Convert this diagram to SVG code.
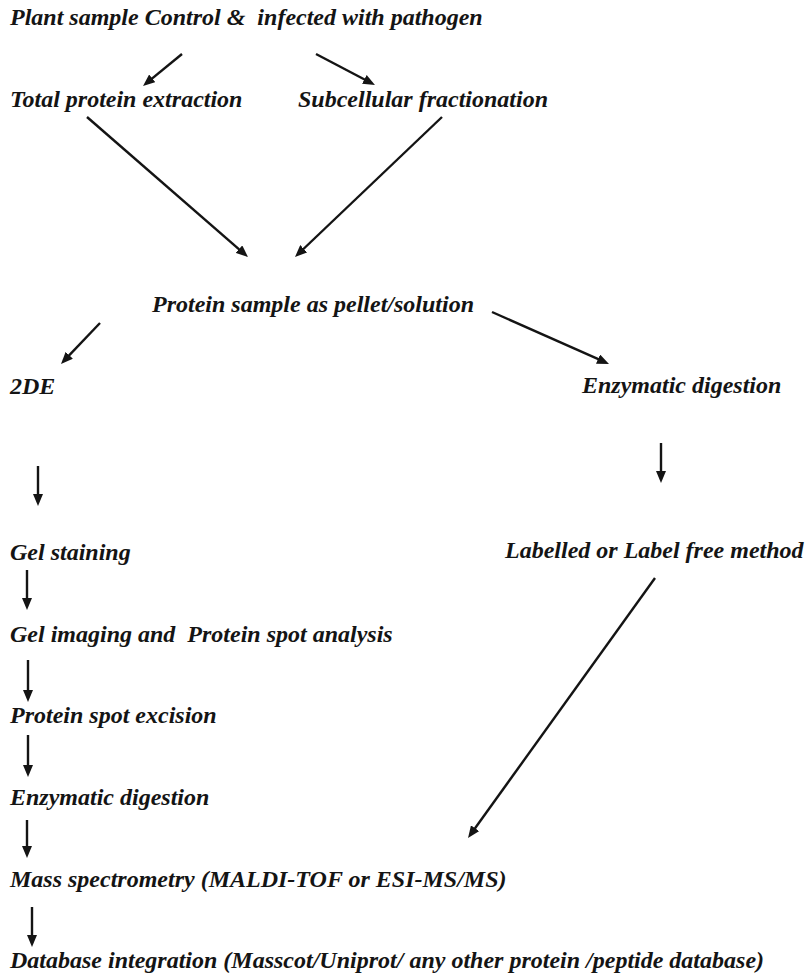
<svg xmlns="http://www.w3.org/2000/svg" width="810" height="978" viewBox="0 0 810 978">
  <style>
    .lbl { font-family: "Liberation Serif", "Times New Roman", serif; font-size: 24px; font-weight: bold; font-style: italic; fill: #141414; white-space: pre; }
    .edge { stroke: #141414; stroke-width: 2.4; fill: none; marker-end: url(#head); }
  </style>
  <defs>
    <marker id="head" markerUnits="userSpaceOnUse" viewBox="0 0 12 10" markerWidth="12" markerHeight="10" refX="4" refY="5" orient="auto">
      <path d="M0,0 L12,5 L0,10 z" fill="#141414"/>
    </marker>
  </defs>
  <rect width="810" height="978" fill="#ffffff"/>

  <g id="plant-sample"><text class="lbl" x="10" y="25">Plant sample Control &amp;  infected with pathogen</text></g>
  <g id="total-extraction"><text class="lbl" x="10" y="107">Total protein extraction</text></g>
  <g id="subcellular"><text class="lbl" x="298" y="107">Subcellular fractionation</text></g>
  <g id="protein-sample"><text class="lbl" x="152" y="312">Protein sample as pellet/solution</text></g>
  <g id="twode"><text class="lbl" x="10" y="394">2DE</text></g>
  <g id="enzymatic-right"><text class="lbl" x="582" y="393">Enzymatic digestion</text></g>
  <g id="gel-staining"><text class="lbl" x="10" y="560">Gel staining</text></g>
  <g id="labelled"><text class="lbl" x="505" y="558">Labelled or Label free method</text></g>
  <g id="gel-imaging"><text class="lbl" x="10" y="642">Gel imaging and  Protein spot analysis</text></g>
  <g id="spot-excision"><text class="lbl" x="10" y="723">Protein spot excision</text></g>
  <g id="enzymatic-left"><text class="lbl" x="10" y="805">Enzymatic digestion</text></g>
  <g id="mass-spec"><text class="lbl" x="10" y="887">Mass spectrometry (MALDI-TOF or ESI-MS/MS)</text></g>
  <g id="database"><text class="lbl" x="10" y="968">Database integration (Masscot/Uniprot/ any other protein /peptide database)</text></g>

  <g id="connectors">
    <line class="edge" x1="182" y1="54" x2="149.2" y2="80.9"/>
    <line class="edge" x1="316" y1="54" x2="367.9" y2="81.3"/>
    <line class="edge" x1="87" y1="117" x2="242.0" y2="251.8"/>
    <line class="edge" x1="442" y1="117" x2="300.8" y2="251.5"/>
    <line class="edge" x1="100" y1="323" x2="66.5" y2="358.2"/>
    <line class="edge" x1="492" y1="312" x2="601.7" y2="360.7"/>
    <line class="edge" x1="661" y1="443" x2="661" y2="475"/>
    <line class="edge" x1="38" y1="466" x2="38" y2="498"/>
    <line class="edge" x1="27" y1="570" x2="27" y2="602"/>
    <line class="edge" x1="28" y1="660" x2="28" y2="694"/>
    <line class="edge" x1="28" y1="735" x2="28" y2="769"/>
    <line class="edge" x1="27" y1="820" x2="27" y2="850"/>
    <line class="edge" x1="32" y1="907" x2="32" y2="939"/>
    <line class="edge" x1="655" y1="578" x2="472.7" y2="831.5"/>
  </g>
</svg>
